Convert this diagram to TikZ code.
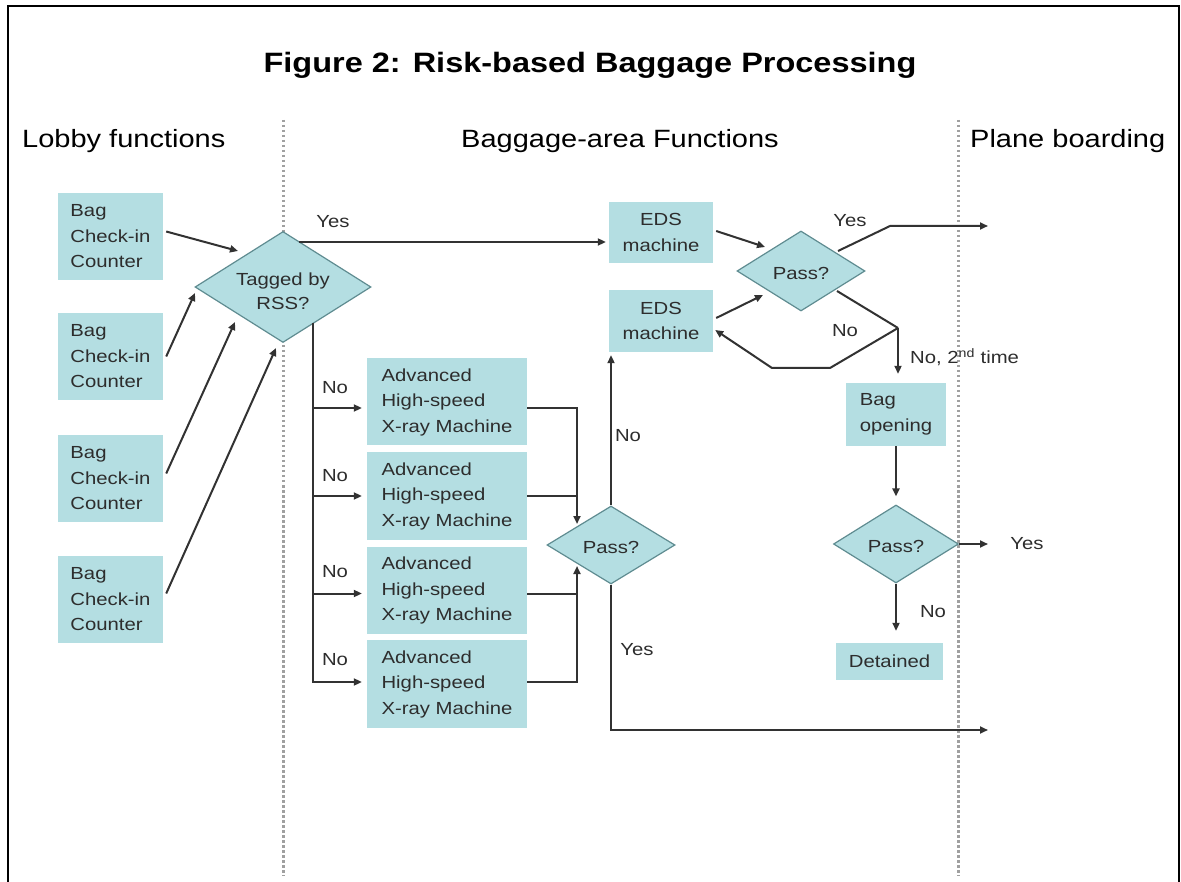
\documentclass[tikz,border=0pt]{standalone}
\usepackage{fontspec}
\setmainfont{Liberation Sans}[FakeStretch=1.16]
\usetikzlibrary{arrows.meta,calc,shapes.geometric}
\definecolor{boxfill}{RGB}{180,222,226}
\definecolor{dline}{RGB}{95,140,145}
\definecolor{txt}{RGB}{45,45,45}
\definecolor{conncol}{RGB}{50,50,50}
\definecolor{sepcol}{RGB}{160,160,160}
\begin{document}
\begin{tikzpicture}[x=1pt,y=-1pt,
  txtfont/.style={font=\fontsize{17.5}{25.5}\selectfont, text=txt},
  box/.style={txtfont, fill=boxfill, draw=none, inner sep=0pt, align=left},
  cbox/.style={box, align=center},
  dec/.style={diamond, fill=boxfill, draw=dline, line width=1.2pt, inner sep=0pt},
  lbl/.style={txtfont, inner sep=0pt},
  conn/.style={draw=conncol, line width=2pt},
  arr/.style={conn, -{Triangle[length=8pt,width=7pt]}},
  sepline/.style={draw=sepcol, line width=3pt, dash pattern=on 2.5pt off 2.5pt},
  hdr/.style={font=\fontsize{25}{30}\selectfont, text=black, inner sep=0pt},
]
\useasboundingbox (0,0) rectangle (1181,882);
\fill[white] (0,0) rectangle (1181,882);
\draw[line width=2.5pt] (8,882) -- (8,6) -- (1179,6) -- (1179,882);

% separators
\draw[sepline] (283,120) -- (283,876);
\draw[sepline] (958,120) -- (958,876);

% title and headers
\node[font=\fontsize{28}{32}\selectfont\bfseries, inner sep=0pt, anchor=base] (title) at (590,73) {Figure 2: Risk-based Baggage Processing};
\node[hdr, anchor=base west] (hlobby) at (22,148) {Lobby functions};
\node[hdr, anchor=base west] (hbag) at (461,148) {Baggage-area Functions};
\node[hdr, anchor=base west] (hplane) at (970,148) {Plane boarding};

% check-in counters
\node[box, minimum width=105pt, minimum height=87pt] (bag1) at (110.5,236.5) {Bag\\Check-in\\Counter};
\node[box, minimum width=105pt, minimum height=87pt] (bag2) at (110.5,356.5) {Bag\\Check-in\\Counter};
\node[box, minimum width=105pt, minimum height=87pt] (bag3) at (110.5,478.5) {Bag\\Check-in\\Counter};
\node[box, minimum width=105pt, minimum height=87pt] (bag4) at (110.5,599.5) {Bag\\Check-in\\Counter};

% decision tagged
\node[dec, minimum width=176pt, minimum height=111pt] (tagged) at (283,287) {};
\node[lbl, align=center, font=\fontsize{17.5}{23.5}\selectfont] (taggedt) at (283,291) {Tagged by\\RSS?};

% x-ray machines
\node[box, minimum width=160pt, minimum height=87pt] (x1) at (447,402) {Advanced\\High-speed\\X-ray Machine};
\node[box, minimum width=160pt, minimum height=88pt] (x2) at (447,496) {Advanced\\High-speed\\X-ray Machine};
\node[box, minimum width=160pt, minimum height=87pt] (x3) at (447,590.5) {Advanced\\High-speed\\X-ray Machine};
\node[box, minimum width=160pt, minimum height=88pt] (x4) at (447,684) {Advanced\\High-speed\\X-ray Machine};

% EDS machines
\node[cbox, minimum width=104pt, minimum height=61pt] (eds1) at (661,232.5) {EDS\\machine};
\node[cbox, minimum width=104pt, minimum height=62pt] (eds2) at (661,321) {EDS\\machine};

% pass decisions
\node[dec, minimum width=128pt, minimum height=78pt] (pass1) at (611,545) {};
\node[lbl] (pass1t) at (611,547) {Pass?};
\node[dec, minimum width=128pt, minimum height=80pt] (pass2) at (801,271) {};
\node[lbl] (pass2t) at (801,273) {Pass?};
\node[dec, minimum width=125pt, minimum height=78pt] (pass3) at (896,544) {};
\node[lbl] (pass3t) at (896,546) {Pass?};

\node[box, minimum width=100pt, minimum height=63pt] (bagopen) at (896,414.5) {Bag\\opening};
\node[cbox, minimum width=107pt, minimum height=37pt] (detained) at (889.5,661.5) {Detained};

% labels
\node[lbl] (yes1) at (333,222) {Yes};
\node[lbl] (no1) at (335,388) {No};
\node[lbl] (no2) at (335,476) {No};
\node[lbl] (no3) at (335,572) {No};
\node[lbl] (no4) at (335,660) {No};
\node[lbl] (no5) at (628,436) {No};
\node[lbl] (yes2) at (637,650) {Yes};
\node[lbl] (yes3) at (850,221) {Yes};
\node[lbl] (no6) at (845,331) {No};
\node[lbl, anchor=west] (no7) at (910,357) {No, 2\textsuperscript{nd} time};
\node[lbl] (yes4) at (1027,544) {Yes};
\node[lbl] (no8) at (933,612) {No};

% free ends and bends
\coordinate (out1) at (988,226);
\coordinate (out2) at (988,544);
\coordinate (out3) at (988,730);
\coordinate (bend1) at (890,226);
\coordinate (nosplit) at (898,328);
\coordinate (lp1) at (830,368);
\coordinate (lp2) at (772,368);
\coordinate (trunk) at ($(tagged.center)+(30,36)$);
\coordinate (vx) at ($(pass1.center)+(-34,0)$);
\coordinate (x1o) at ($(x1.east)+(0,6)$);
\coordinate (x3o) at ($(x3.east)+(0,3)$);
\coordinate (x4o) at ($(x4.east)+(0,-2)$);

% counters -> tagged
\draw[arr] ($(bag1.east)+(3,-5)$) -- ($(tagged.center)+(-45,-36)$);
\draw[arr] ($(bag2.east)+(3,0)$) -- ($(tagged.center)+(-88,6)$);
\draw[arr] ($(bag3.east)+(3,-5)$) -- ($(tagged.center)+(-48,35)$);
\draw[arr] ($(bag4.east)+(3,-6)$) -- ($(tagged.center)+(-7,61)$);

% tagged yes -> EDS
\draw[arr] ($(tagged.center)+(16,-45)$) -- ($(eds1.west)+(-3,9.5)$);

% tagged no -> x-ray
\draw[arr] (trunk) |- ($(x4.west)+(-5,-2)$);
\draw[arr] (trunk |- x1o) -- ($(x1.west)+(-5,6)$);
\draw[arr] (trunk |- x2.west) -- ($(x2.west)+(-5,0)$);
\draw[arr] (trunk |- x3o) -- ($(x3.west)+(-5,3)$);

% x-ray -> pass1
\draw[arr] (x1o) -| ($(pass1.center)+(-34,-21)$);
\draw[conn] (x2.east) -- (x2.east -| vx);
\draw[arr] (x4o) -| ($(pass1.center)+(-34,21)$);
\draw[conn] (x3o) -- (x3o -| vx);

% pass1 outcomes
\draw[arr] (pass1.north) -- ($(pass1.north |- eds2.south)+(0,3)$);
\draw[arr] (pass1.south) |- (out3);

% EDS -> pass2
\draw[arr] ($(eds1.east)+(3,-1.5)$) -- ($(pass2.center)+(-36,-24)$);
\draw[arr] ($(eds2.east)+(3,-3)$) -- ($(pass2.center)+(-38,24)$);

% pass2 outcomes
\draw[arr] ($(pass2.center)+(37,-20)$) -- (bend1) -- (out1);
\draw[conn] ($(pass2.center)+(36,20)$) -- (nosplit);
\draw[arr] (nosplit) -- ($(nosplit |- bagopen.north)+(0,-9)$);
\draw[arr] (nosplit) -- (lp1) -- (lp2) -- ($(eds2.east)+(2,9)$);

% bag opening -> pass3 -> outcomes
\draw[arr] (bagopen.south) -- ($(pass3.north)+(0,-8)$);
\draw[arr] (pass3.east) -- (out2);
\draw[arr] (pass3.south) -- ($(pass3.south |- detained.north)+(0,-12)$);
\end{tikzpicture}
\end{document}
